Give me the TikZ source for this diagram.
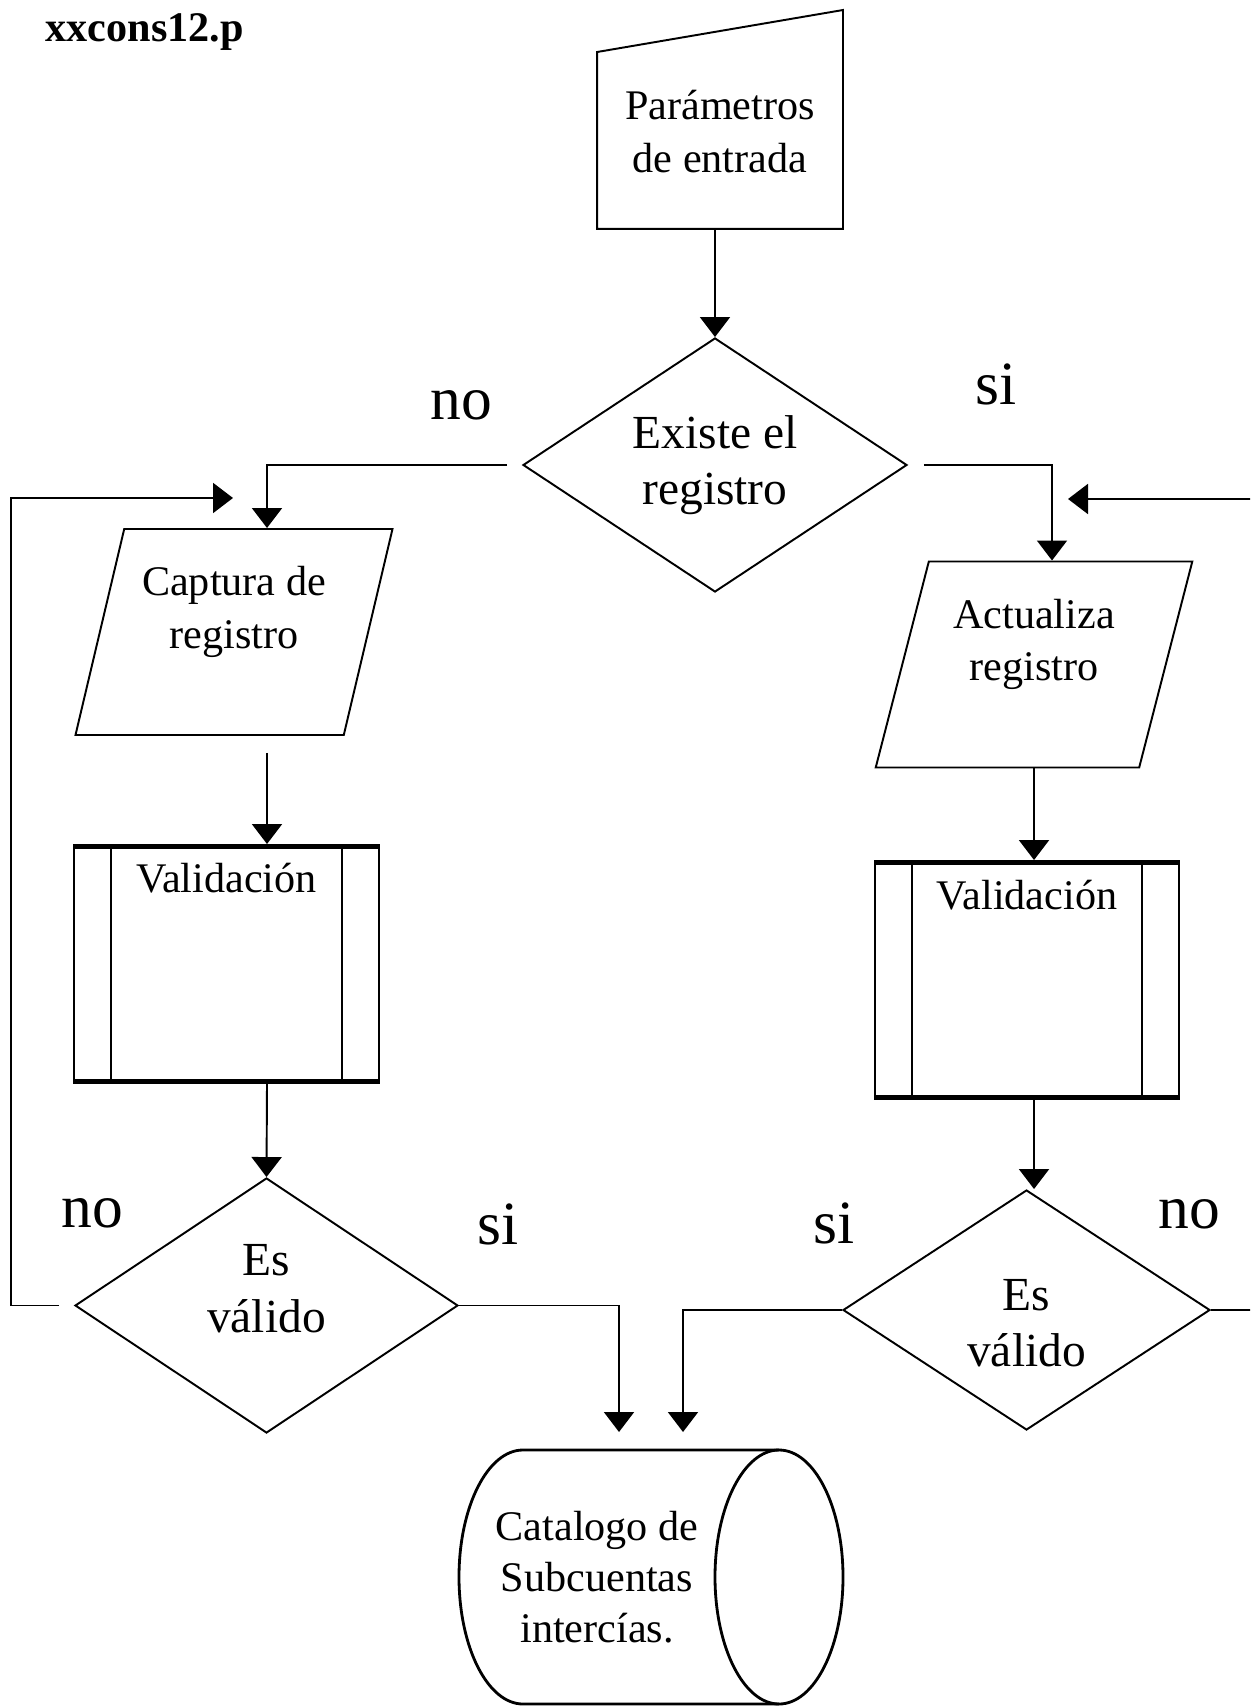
\documentclass[tikz,border=0pt]{standalone}
\usepackage{fontspec}
\setmainfont{Liberation Serif}
\usetikzlibrary{positioning}
\usetikzlibrary{shapes.geometric}
\usetikzlibrary{arrows.meta}

\begin{document}
\begin{tikzpicture}[
 flecha/.style={-{Triangle[width=0.3cm,length=0.2cm]}, line width=0.55pt},
 caja/.style={line width=0.55pt, inner sep=0pt, align=center, font=\fontsize{12}{15}\selectfont},
 entrada/.style={caja, rectangle, minimum width=2.44cm, minimum height=1.93cm},
 datos/.style={caja, draw, trapezium, trapezium left angle=72.7, trapezium right angle=107.3, trapezium stretches=true, minimum width=3.18cm, minimum height=2.06cm, text depth=0.49cm},
 pregunta/.style={caja, draw, diamond, aspect=1.5, font=\fontsize{13.5}{16}\selectfont},
 proceso/.style={caja, draw, rectangle, minimum width=3.05cm, text height=0.47cm, text depth=1.91cm,
  path picture={
   \draw[line width=0.55pt] ([xshift=0.37cm]path picture bounding box.north west) -- ([xshift=0.37cm]path picture bounding box.south west);
   \draw[line width=0.55pt] ([xshift=-0.37cm]path picture bounding box.north east) -- ([xshift=-0.37cm]path picture bounding box.south east);
   \draw[line width=2pt] (path picture bounding box.north west) -- (path picture bounding box.north east);
   \draw[line width=2pt] (path picture bounding box.south west) -- (path picture bounding box.south east);
  }},
 almacen/.style={caja, rectangle, font=\fontsize{12}{14.5}\selectfont},
 borde/.style={line width=0.8pt},
 respuesta/.style={anchor=base, inner sep=0pt, font=\fontsize{17.5}{20}\selectfont},
]

\useasboundingbox (0,0) rectangle (12.5,-17.07);
\clip (0,0) rectangle (12.5,-17.07);

\node[anchor=base west, inner sep=0pt, font=\bfseries\fontsize{12}{14}\selectfont] (titulo) at (0.45,-0.42) {xxcons12.p};

\node[entrada] (param) at (7.20,-1.315) {Parámetros\\de entrada};
\draw[line width=0.55pt] (param.south west) -- (param.south east) -- ([yshift=0.24cm]param.north east) -- ([yshift=-0.18cm]param.north west) -- cycle;

\node[pregunta, minimum width=3.84cm, minimum height=2.54cm] (existe) at (7.15,-4.65) {Existe el\\registro};

\node[datos] (captura) at (2.34,-6.32) {Captura de\\registro};
\node[datos] (actualiza) at (10.34,-6.645) {Actualiza\\registro};

\node[proceso] (valida1) at (2.265,-9.64) {Validación};
\node[proceso, minimum width=3.04cm, text height=0.48cm, text depth=1.90cm] (valida2) at (10.27,-9.80) {Validación};

\node[pregunta, minimum width=3.83cm, minimum height=2.55cm, text depth=0.34cm] (valido1) at (2.665,-13.055) {Es\\válido};
\node[pregunta, minimum width=3.67cm, minimum height=2.40cm, text height=1.13cm] (valido2) at (10.265,-13.10) {Es\\válido};

\node[almacen] (catalogo) at (5.97,-15.77) {Catalogo de\\Subcuentas\\intercías.};
\draw[borde] ([shift={(1.82,0)}]catalogo.center) ellipse [x radius=0.64cm, y radius=1.27cm];
\draw[borde] ([shift={(1.82,1.27)}]catalogo.center) -- ([shift={(-0.74,1.27)}]catalogo.center) arc[start angle=90, end angle=270, x radius=0.64cm, y radius=1.27cm] -- ([shift={(1.82,-1.27)}]catalogo.center);

\node[respuesta] (no1) at (4.61,-4.20) {no};
\node[respuesta] (si1) at (9.96,-4.05) {si};
\node[respuesta] (no2) at (0.925,-12.27) {no};
\node[respuesta] (si2) at (4.98,-12.44) {si};
\node[respuesta] (si3) at (8.34,-12.43) {si};
\node[respuesta] (no3) at (11.895,-12.28) {no};

\coordinate (colL) at (2.67,-4.66);
\coordinate (colR) at (10.52,-4.66);
\coordinate (back1) at (2.33,-4.98);
\coordinate (loopL) at (0.11,-4.98);
\coordinate (back2) at (10.68,-4.99);
\coordinate (loopR) at (12.70,-4.99);
\coordinate (in1) at (6.19,-14.32);
\coordinate (in2) at (6.83,-14.32);

\draw[flecha] (existe.north |- param.south) -- (existe.north);

\draw[flecha, shorten <=0.15cm] (existe.west) -| (colL |- captura.north);
\draw[flecha, shorten <=0.16cm] (existe.east) -| (colR |- actualiza.north);

\draw[flecha, shorten <=0.17cm] (colL |- captura.south) -- (colL |- valida1.north);
\draw[flecha] (colL |- valida1.south) -- (valido1.north);

\draw[flecha] (actualiza.south) -- (actualiza.south |- valida2.north);
\draw[flecha] (actualiza.south |- valida2.south) -- (actualiza.south |- valido2.north);

\draw[flecha] (valido1.east) -| (in1);
\draw[flecha] (valido2.west) -| (in2);

\draw[flecha, shorten <=0.15cm] (valido1.west) -| (loopL) -- (back1);
\draw[flecha] (valido2.east) -| (loopR) -- (back2);

\end{tikzpicture}
\end{document}
